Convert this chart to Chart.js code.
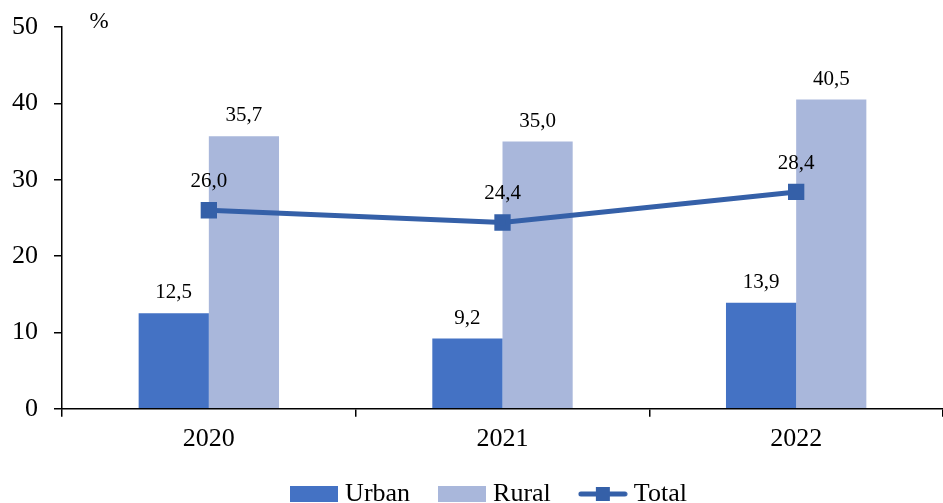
<!DOCTYPE html>
<html>
<head>
<meta charset="utf-8">
<script src="https://cdn.jsdelivr.net/npm/chart.js@4/dist/chart.umd.min.js"></script>
<style>
  html, body { margin: 0; padding: 0; background: #fff; }
  #wrap { width: 943px; height: 503px; }
</style>
</head>
<body>
<div id="wrap"><canvas id="chart"></canvas></div>
<script>
const years = ["2020", "2021", "2022"];
const urban = [12.5, 9.2, 13.9];
const rural = [35.7, 35.0, 40.5];
const total = [26.0, 24.4, 28.4];
const yTicks = [0, 10, 20, 30, 40, 50];

const urbanColor = "#4472C4";
const ruralColor = "#A9B7DB";
const totalColor = "#3560A8";
const serif = "'Liberation Serif', 'Times New Roman', serif";

function fmt(v) {
  return v.toFixed(1).replace(".", ",");
}

// legend swatches (wider than the legend box so the text sits close)
function swatch(color) {
  const c = document.createElement("canvas");
  c.width = 48; c.height = 16;
  const g = c.getContext("2d");
  g.fillStyle = color;
  g.fillRect(0, 0, 48, 16);
  return c;
}
function lineSwatch(color) {
  const c = document.createElement("canvas");
  c.width = 50; c.height = 16;
  const g = c.getContext("2d");
  g.strokeStyle = color;
  g.lineWidth = 5;
  g.lineCap = "round";
  g.beginPath();
  g.moveTo(3, 8); g.lineTo(47, 8);
  g.stroke();
  g.fillStyle = color;
  g.fillRect(18, 1, 14, 14);
  return c;
}

const labelPlugin = {
  id: "valueLabels",
  afterLayout(chart) {
    // legend in the reference sits a bit right of centre and higher
    chart.legend.left += 40;
    chart.legend.top -= 15;
  },
  afterDatasetsDraw(chart) {
    const ctx = chart.ctx;
    ctx.save();
    ctx.fillStyle = "#000";
    ctx.font = "21px " + serif;
    ctx.textAlign = "center";
    ctx.textBaseline = "bottom";
    chart.data.datasets.forEach((ds, i) => {
      const meta = chart.getDatasetMeta(i);
      meta.data.forEach((el, j) => {
        const off = ds.type === "line" ? 18 : 10;
        ctx.fillText(fmt(ds.data[j]), el.x, el.y - off);
      });
    });
    // unit label
    ctx.font = "23px " + serif;
    ctx.textBaseline = "middle";
    ctx.fillText("%", chart.chartArea.left + 37, 22);
    ctx.restore();
  }
};

new Chart(document.getElementById("chart"), {
  data: {
    labels: years,
    datasets: [
      {
        type: "line",
        label: "Total",
        data: total,
        borderColor: totalColor,
        backgroundColor: totalColor,
        borderWidth: 5,
        pointStyle: "rect",
        pointRadius: 8,
        pointHoverRadius: 8,
        tension: 0,
        order: 0
      },
      {
        type: "bar",
        label: "Urban",
        data: urban,
        backgroundColor: urbanColor,
        order: 1
      },
      {
        type: "bar",
        label: "Rural",
        data: rural,
        backgroundColor: ruralColor,
        order: 1
      }
    ]
  },
  options: {
    responsive: true,
    maintainAspectRatio: false,
    animation: false,
    datasets: {
      bar: { categoryPercentage: 0.478, barPercentage: 1 }
    },
    layout: { autoPadding: false, padding: { top: 27, right: 0, left: 0, bottom: -29 } },
    plugins: {
      tooltip: { enabled: false },
      legend: {
        position: "bottom",
        padding: 0,
        labels: {
          usePointStyle: true,
          pointStyleWidth: 36,
          boxHeight: 16,
          padding: 34,
          color: "#000",
          font: { family: serif, size: 26 },
          generateLabels() {
            return [
              { text: "Urban", pointStyle: swatch(urbanColor), fillStyle: urbanColor, strokeStyle: urbanColor, lineWidth: 0, datasetIndex: 1 },
              { text: "Rural", pointStyle: swatch(ruralColor), fillStyle: ruralColor, strokeStyle: ruralColor, lineWidth: 0, datasetIndex: 2 },
              { text: "Total", pointStyle: lineSwatch(totalColor), fillStyle: totalColor, strokeStyle: totalColor, lineWidth: 0, datasetIndex: 0 }
            ];
          }
        }
      }
    },
    scales: {
      x: {
        offset: true,
        grid: {
          offset: true,
          drawOnChartArea: false,
          drawTicks: true,
          tickLength: 8,
          color: "#000",
          lineWidth: 1.5
        },
        border: { display: true, color: "#000", width: 1.5 },
        ticks: {
          color: "#000",
          padding: 7,
          font: { family: serif, size: 26 }
        }
      },
      y: {
        min: 0,
        max: 50,
        afterBuildTicks(axis) {
          axis.ticks = yTicks.map(v => ({ value: v }));
        },
        afterFit(axis) {
          axis.width = 62;
          axis.paddingTop = 0;
          axis.paddingBottom = 0;
        },
        grid: {
          drawOnChartArea: false,
          drawTicks: true,
          tickLength: 8,
          color: "#000",
          lineWidth: 1.5
        },
        border: { display: true, color: "#000", width: 1.5 },
        ticks: {
          color: "#000",
          padding: 16,
          font: { family: serif, size: 26 }
        }
      }
    }
  },
  plugins: [labelPlugin]
});
</script>
</body>
</html>
